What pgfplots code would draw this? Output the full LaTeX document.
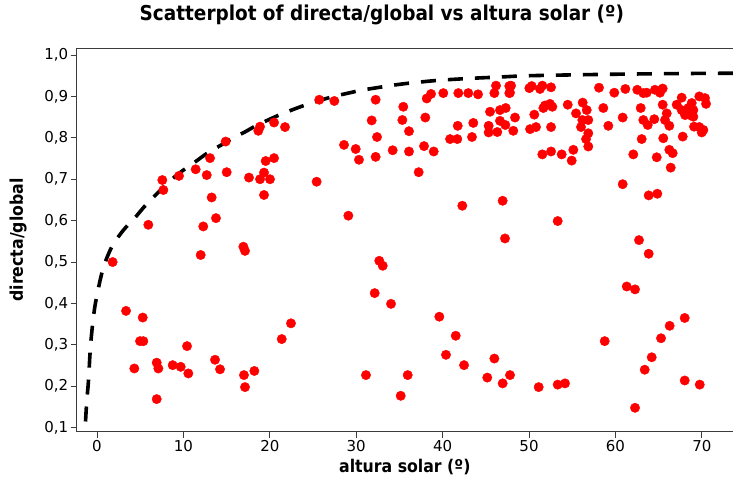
\documentclass[border=0pt]{standalone}
\usepackage{fontspec}
\setmainfont{DejaVu Sans}
\newfontfamily\condfont{DejaVu Sans Condensed}
\usepackage{pgfplots}
\usepackage{pgfplotstable}
\pgfplotsset{compat=1.18}
\definecolor{axgray}{RGB}{60,60,60}
\pgfplotstableread{
x y
5.94 0.590
12.30 0.586
13.77 0.606
13.27 0.656
7.56 0.698
7.68 0.674
9.49 0.708
11.42 0.724
12.70 0.710
13.08 0.751
14.89 0.791
15.01 0.717
17.59 0.704
18.87 0.700
19.33 0.716
20.02 0.700
19.33 0.662
19.52 0.744
20.49 0.751
18.67 0.817
18.87 0.827
20.49 0.837
21.76 0.826
25.73 0.892
27.47 0.889
32.25 0.892
25.42 0.694
29.09 0.612
28.59 0.783
29.94 0.773
30.32 0.747
31.79 0.842
32.41 0.802
32.25 0.754
34.22 0.770
35.45 0.875
35.34 0.843
36.11 0.816
36.11 0.767
37.23 0.717
37.85 0.780
38.97 0.767
38.00 0.849
38.16 0.895
38.66 0.906
40.08 0.908
41.82 0.908
42.97 0.908
44.10 0.905
40.86 0.797
41.70 0.797
41.75 0.829
43.55 0.836
43.40 0.802
45.33 0.829
45.33 0.813
46.33 0.814
45.49 0.863
46.64 0.867
47.30 0.872
46.64 0.841
47.26 0.831
46.18 0.926
45.99 0.908
47.72 0.925
47.72 0.908
42.28 0.636
46.95 0.648
47.22 0.557
47.92 0.926
47.80 0.909
48.38 0.849
48.18 0.817
50.04 0.920
50.31 0.925
51.27 0.918
51.54 0.926
52.55 0.922
50.61 0.856
51.66 0.872
51.85 0.878
52.43 0.882
52.70 0.875
50.12 0.821
50.81 0.826
52.55 0.826
51.54 0.760
52.55 0.767
53.78 0.760
54.94 0.745
55.13 0.771
54.48 0.880
55.44 0.859
56.21 0.885
56.68 0.867
56.17 0.843
56.86 0.843
56.02 0.826
56.86 0.811
56.60 0.797
56.86 0.779
58.10 0.921
59.87 0.909
61.15 0.918
58.60 0.872
59.18 0.829
60.84 0.849
62.07 0.760
62.53 0.916
63.23 0.908
63.62 0.909
64.58 0.916
65.16 0.909
65.47 0.919
62.93 0.872
63.23 0.843
63.74 0.831
64.50 0.845
65.47 0.880
65.94 0.859
65.74 0.843
66.24 0.829
63.04 0.797
65.54 0.799
64.78 0.753
66.24 0.771
66.63 0.763
66.40 0.728
67.79 0.803
67.09 0.880
67.67 0.897
67.67 0.867
68.06 0.855
68.83 0.884
69.02 0.867
68.44 0.872
68.63 0.855
69.71 0.900
70.37 0.896
70.49 0.882
69.10 0.827
69.71 0.826
70.18 0.819
69.99 0.813
69.02 0.851
60.84 0.688
63.85 0.661
64.85 0.665
53.32 0.599
1.81 0.500
12.00 0.517
16.94 0.537
17.13 0.527
3.36 0.382
5.29 0.366
4.98 0.309
5.36 0.309
4.32 0.243
6.91 0.257
7.10 0.243
6.91 0.169
8.76 0.251
9.69 0.247
10.57 0.231
10.42 0.297
13.66 0.264
14.24 0.241
17.01 0.227
17.13 0.198
18.21 0.237
21.38 0.314
22.45 0.352
32.67 0.503
33.07 0.491
32.14 0.425
34.03 0.399
31.13 0.227
35.96 0.227
35.15 0.177
39.62 0.368
41.52 0.322
40.39 0.276
42.48 0.251
45.99 0.267
45.17 0.221
46.95 0.207
47.80 0.227
62.73 0.553
63.85 0.520
61.31 0.441
62.27 0.434
58.76 0.309
68.02 0.365
66.28 0.346
65.28 0.316
64.20 0.270
63.39 0.240
68.02 0.214
69.76 0.204
62.27 0.148
51.12 0.198
53.32 0.204
54.17 0.207
}\pts
\pgfplotstableread{
x y
-1.33 0.115
-1.19 0.163
-1.04 0.199
-0.93 0.232
-0.85 0.265
-0.74 0.300
-0.58 0.336
-0.43 0.365
-0.22 0.396
0.05 0.425
0.35 0.455
0.70 0.484
1.10 0.508
1.60 0.532
2.20 0.553
2.90 0.573
3.60 0.590
4.60 0.612
5.40 0.632
6.70 0.660
7.70 0.681
9.00 0.706
10.00 0.722
11.50 0.744
12.70 0.762
14.40 0.783
15.60 0.798
17.10 0.814
18.30 0.828
20.00 0.845
21.20 0.856
22.90 0.870
24.50 0.882
26.20 0.893
27.60 0.901
29.30 0.909
30.60 0.915
32.40 0.921
33.90 0.926
35.70 0.931
38.50 0.937
40.30 0.940
43.60 0.944
46.80 0.947
50.00 0.950
58.00 0.953
66.00 0.955
73.60 0.956
}\curve
\begin{document}
\begin{tikzpicture}
\path[use as bounding box] (-76.7bp,-55.3bp) rectangle (656.3bp,431.7bp);
\begin{axis}[
  scale only axis, width=656.3bp, height=383.4bp,
  anchor=south west, at={(0,0)},
  xmin=-2.35, xmax=73.61, ymin=0.0903, ymax=1.0162,
  clip=false,
  axis x line*=bottom, axis y line*=left,
  axis line style={axgray, line width=1.3bp},
  xtick={0,10,20,30,40,50,60,70},
  ytick={0.1,0.2,0.3,0.4,0.5,0.6,0.7,0.8,0.9,1.0},
  tick style={axgray, line width=1bp},
  major tick length=6bp, tick align=outside,
  /pgf/number format/assume math mode=true,
  yticklabel style={/pgf/number format/fixed, /pgf/number format/fixed zerofill, /pgf/number format/precision=1, /pgf/number format/use comma, xshift=1bp},
  ticklabel style={font=\fontsize{15bp}{18bp}\selectfont, black},
  xticklabel style={yshift=1bp},
  title={Scatterplot of directa/global vs altura solar (º)},
  title style={font=\condfont\bfseries\fontsize{20.5bp}{24bp}\selectfont, at={(0.465,1)}, anchor=base, yshift=21.6bp},
  xlabel={altura solar (º)},
  xlabel style={font=\condfont\bfseries\fontsize{17.5bp}{20bp}\selectfont, at={(axis description cs:0.5,0)}, anchor=center, yshift=-35.5bp},
  ylabel={directa/global},
  ylabel style={font=\condfont\bfseries\fontsize{17.5bp}{20bp}\selectfont, at={(axis description cs:0,0.5)}, anchor=center, yshift=58.7bp},
]
\addplot[black, line width=3.6bp, dash pattern=on 15bp off 12bp, smooth] table[x=x,y=y] {\curve};
\addplot[only marks, mark=*, mark size=4.7bp, color=red, mark options={fill=red, draw=red}] table[x=x,y=y] {\pts};
\draw[axgray, line width=1.3bp] (rel axis cs:0,1) -- (rel axis cs:1,1);
\end{axis}
\end{tikzpicture}
\end{document}
